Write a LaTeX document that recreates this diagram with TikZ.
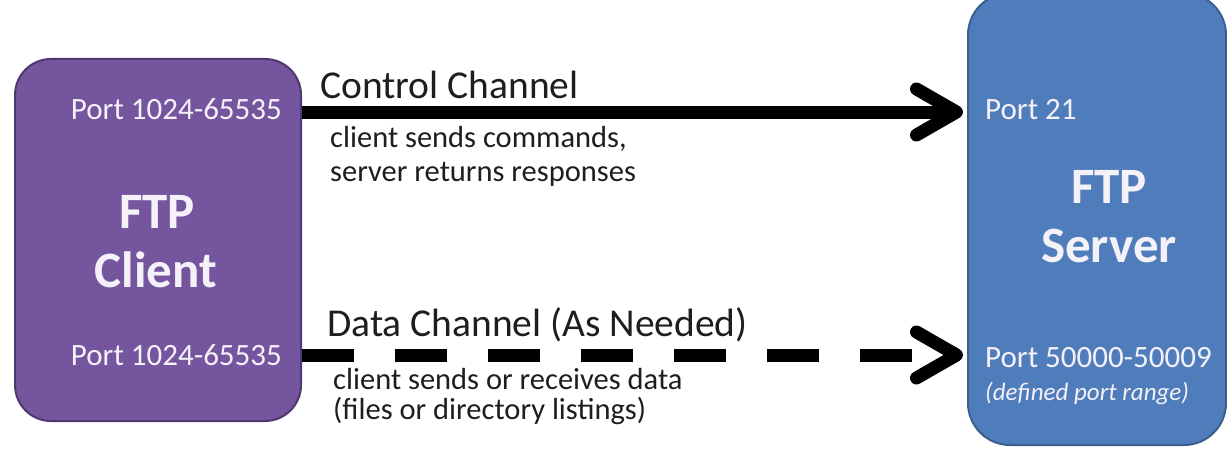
\documentclass[tikz,border=0pt]{standalone}
\usepackage{fontspec}
\setmainfont{Carlito}
\usetikzlibrary{arrows.meta}
\definecolor{clientfill}{HTML}{76559F}
\definecolor{clientdraw}{HTML}{4F3870}
\definecolor{serverfill}{HTML}{4F7DBB}
\definecolor{serverdraw}{HTML}{3A5F90}
\definecolor{boxtext}{HTML}{F4F2F8}
\definecolor{labeltext}{HTML}{1E1E1E}
\tikzset{
  box/.style={draw, line width=2pt, rounded corners=36pt, inner sep=0pt},
  porttext/.style={inner sep=0pt, text=boxtext, font=\fontsize{31}{33}\selectfont},
  titletext/.style={inner sep=0pt, text=boxtext, font=\fontsize{51}{58}\selectfont\bfseries, align=center},
  chantitle/.style={inner sep=0pt, text=labeltext, font=\fontsize{39.5}{41}\selectfont},
  chandesc/.style={inner sep=0pt, text=labeltext, font=\fontsize{30.5}{33}\selectfont, align=left},
  channel/.style={line width=13pt, -{Straight Barb[length=40pt,width=46pt,round]}},
}
\begin{document}
\begin{tikzpicture}[x=1pt,y=-1pt]
\useasboundingbox (0,0) rectangle (1227,452);
% boxes
\node[box, fill=clientfill, draw=clientdraw, minimum width=286pt, minimum height=362pt, anchor=north west] (client) at (14,58) {};
\node[box, fill=serverfill, draw=serverdraw, minimum width=258pt, minimum height=452pt, rounded corners=42pt, anchor=north west] (server) at (967,-8) {};
% client texts
\node[porttext, anchor=base east] (cport1) at (282,119) {Port 1024-65535};
\node[porttext, anchor=base east] (cport2) at (282,365) {Port 1024-65535};
\node[titletext, anchor=base] (cftp) at (157,228) {FTP};
\node[titletext, anchor=base] (cname) at (156,287) {Client};
% server texts
\node[porttext, anchor=base west] (sport1) at (985,120) {Port 21};
\node[porttext, anchor=base west] (sport2) at (985,367) {Port 50000-50009};
\node[porttext, anchor=base west, font=\fontsize{25}{27}\selectfont\itshape] (srange) at (985,400) {(defined port range)};
\node[titletext, anchor=base] (sftp) at (1109,203) {FTP};
\node[titletext, anchor=base] (sname) at (1109,262) {Server};
% channel labels
\node[chantitle, anchor=base west] (ctitle) at (320,99) {Control Channel};
\node[chandesc, anchor=base west] (cdesc1) at (330,147) {client sends commands,};
\node[chandesc, anchor=base west] (cdesc2) at (330,181) {server returns responses};
\node[chantitle, anchor=base west] (dtitle) at (327,336) {Data Channel (As Needed)};
\node[chandesc, anchor=base west] (ddesc1) at (333,389) {client sends or receives data};
\node[chandesc, anchor=base west] (ddesc2) at (333,419) {(files or directory listings)};
% connectors
\coordinate (ylineA) at (0,112);
\coordinate (ylineB) at (0,355);
\draw[channel] (client.east |- ylineA) -- ([xshift=-4pt]server.west |- ylineA);
\draw[channel, dash pattern=on 52pt off 41pt] (client.east |- ylineB) -- ([xshift=-4pt]server.west |- ylineB);
\end{tikzpicture}
\end{document}
